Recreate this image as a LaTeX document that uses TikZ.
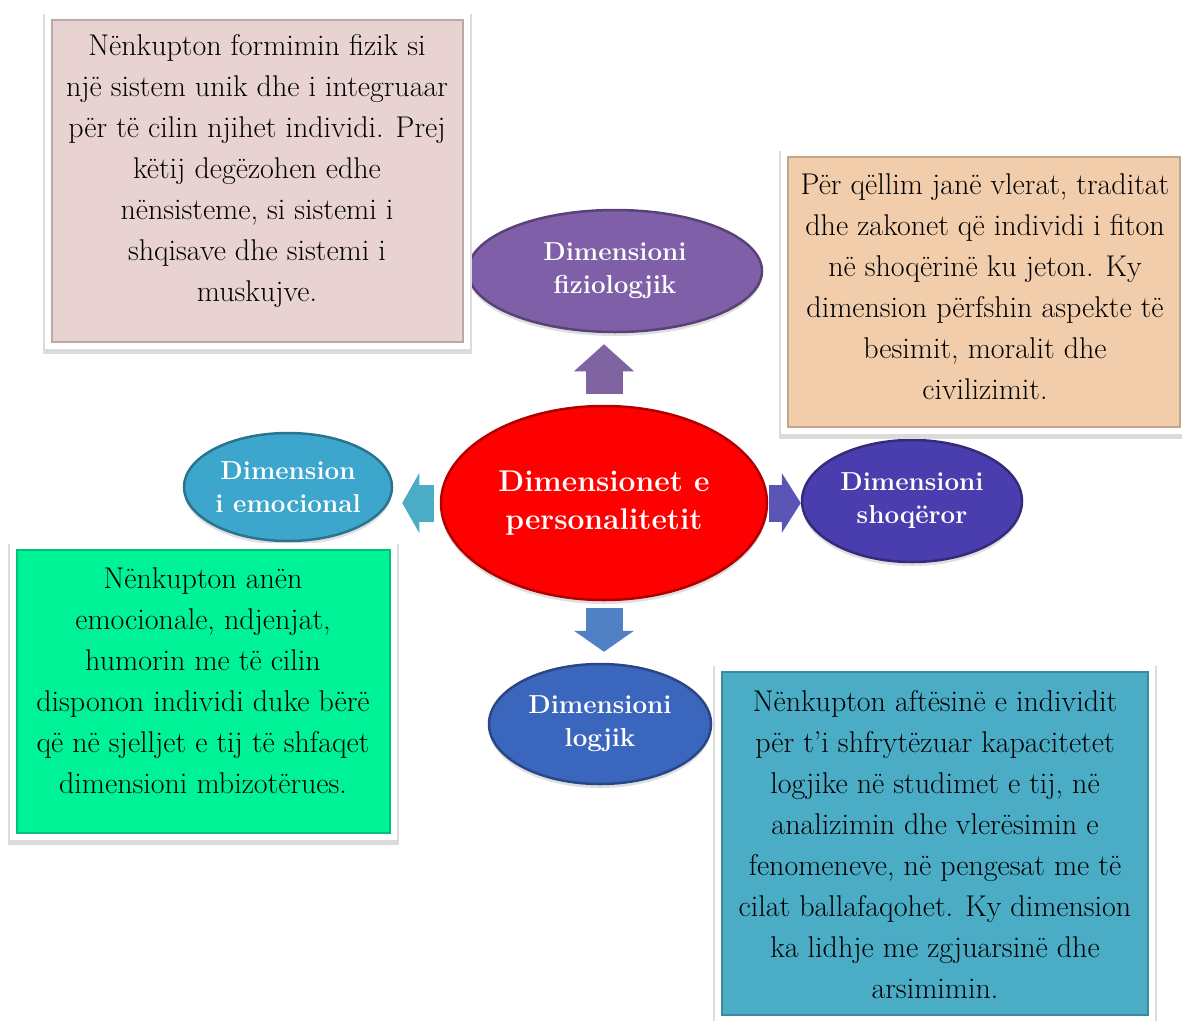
\documentclass[tikz,border=0pt]{standalone}
\usepackage{fontspec}
\usetikzlibrary{shapes.geometric, shadows, arrows.meta, calc}

\definecolor{pinkfill}{HTML}{E8D3D2}
\definecolor{peachfill}{HTML}{F2CDAB}
\definecolor{greenfill}{HTML}{00F296}
\definecolor{bluefill}{HTML}{4BACC6}
\definecolor{fizioC}{HTML}{7F5FA8}
\definecolor{centerC}{HTML}{FF0000}
\definecolor{emoC}{HTML}{3DA6CC}
\definecolor{shoqC}{HTML}{4A3EAE}
\definecolor{logjC}{HTML}{3B66BE}
\definecolor{upC}{HTML}{8064A2}
\definecolor{leftC}{HTML}{4BACC6}
\definecolor{rightC}{HTML}{5B55B5}
\definecolor{downC}{HTML}{4F81C4}

\begin{document}
\begin{tikzpicture}[x=1pt, y=-1pt,
  every node/.style={inner sep=0pt, align=center},
  dimnode/.style={ellipse, fill=#1, draw=#1!70!black, line width=2.5pt,
    text=white, font=\fontsize{26}{33}\selectfont\bfseries,
    drop shadow={shadow xshift=0pt, shadow yshift=-4pt, opacity=0.25}},
  infobox/.style={rectangle, fill=#1, draw=#1!80!black, line width=1.2pt,
    preaction={draw=black!14, line width=18pt, transform canvas={yshift=-3pt}},
    preaction={draw=white, line width=14pt}},
  boxtext/.style={font=\fontsize{30}{41}\selectfont},
  blockarr/.style 2 args={draw=#1, line width=37pt,
    -{Triangle[length=#2, width=60pt, line width=0pt]}}
]
\useasboundingbox (0,0) rectangle (1182,1020);

% Ellipses WITH LABELS
\node[dimnode=fizioC, minimum width=294pt, minimum height=122pt] (FZ) at (615,271) {Dimensioni\\fiziologjik};
\node[dimnode=centerC, minimum width=326pt, minimum height=194pt,
  font=\fontsize{30}{38}\selectfont\bfseries] (CT) at (604,503) {Dimensionet e\\personalitetit};
\node[dimnode=emoC, minimum width=208pt, minimum height=108pt] (EM) at (288,487) {Dimension\\i emocional};
\node[dimnode=shoqC, minimum width=220pt, minimum height=122pt] (SH) at (912,501) {Dimensioni\\shoqëror};
\node[dimnode=logjC, minimum width=222pt, minimum height=120pt] (LG) at (600,724) {Dimensioni\\logjik};

% ---- Block arrows ----
\draw[blockarr={upC}{27pt}, shorten <=11pt, shorten >=11pt] (CT.north) -- (CT.north |- FZ.south);
\draw[blockarr={leftC}{17pt}, shorten <=6pt, shorten >=9pt] (CT.west) -- (CT.west -| EM.east);
\draw[blockarr={rightC}{19pt}, shorten <=1pt] (CT.east) -- (CT.east -| SH.west);
\draw[blockarr={downC}{21pt}, shorten <=7pt, shorten >=11pt] (CT.south) -- (CT.south |- LG.north);

% ---- Text boxes ----
\node[infobox=pinkfill, minimum width=411pt, minimum height=322pt] (PB) at (257.5,181) {};
\node[infobox=peachfill, minimum width=392pt, minimum height=270pt] (OB) at (984,292) {};
\node[infobox=greenfill, minimum width=373pt, minimum height=283pt] (GB) at (203.5,691.5) {};
\node[infobox=bluefill, minimum width=426pt, minimum height=343pt] (BB) at (935,843.5) {};

\node[boxtext] (PT) at (257,171) {Nënkupton formimin fizik si\\një sistem unik dhe i integruaar\\për të cilin njihet individi. Prej\\këtij degëzohen edhe\\nënsisteme, si sistemi i\\shqisave dhe sistemi i\\muskujve.};
\node[boxtext] (OT) at (985,287) {Për qëllim janë vlerat, traditat\\dhe zakonet që individi i fiton\\në shoqërinë ku jeton. Ky\\dimension përfshin aspekte të\\besimit, moralit dhe\\civilizimit.};
\node[boxtext] (GT) at (203,681) {Nënkupton anën\\emocionale, ndjenjat,\\humorin me të cilin\\disponon individi duke bërë\\që në sjelljet e tij të shfaqet\\dimensioni mbizotërues.};
\node[boxtext] (BT) at (935,845) {Nënkupton aftësinë e individit\\për t’i shfrytëzuar kapacitetet\\logjike në studimet e tij, në\\analizimin dhe vlerësimin e\\fenomeneve, në pengesat me të\\cilat ballafaqohet. Ky dimension\\ka lidhje me zgjuarsinë dhe\\arsimimin.};

\end{tikzpicture}
\end{document}
